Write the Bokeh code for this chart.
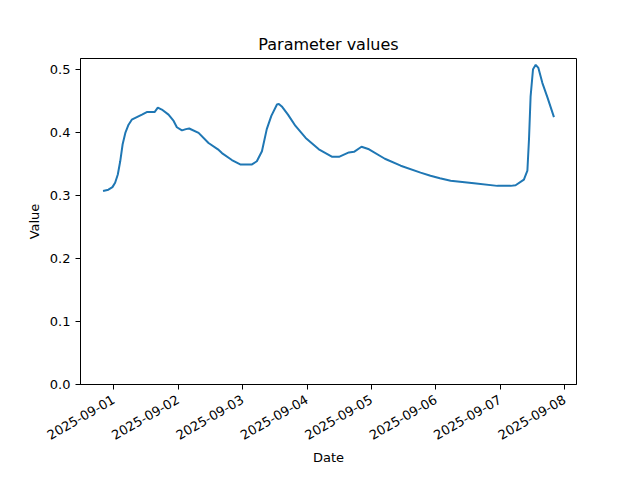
import pandas as pd
from bokeh.plotting import figure
from bokeh.models import Range1d, FixedTicker, DatetimeTickFormatter, NumeralTickFormatter, ColumnDataSource
from bokeh.embed import file_html
from bokeh.resources import INLINE

start = pd.Timestamp("2025-08-31 20:00")
hours = [0, 2, 3.5, 4.5, 5.5, 6.4, 7.3, 8.3, 9.5, 10.7, 12.6, 14.5, 16.3, 19.2, 20.4, 21.9,
         24.4, 26.3, 27.5, 29.4, 30.9, 32.1, 35.6, 39.3, 42.8, 44.3, 48, 51.1, 55.5, 57.3,
         59.2, 61, 62.7, 64.8, 65.5, 66.6, 68.9, 71.7, 75.5, 80.4, 85.4, 87.9, 91.6, 93.5,
         96.3, 99.1, 105, 110.9, 118.3, 122, 125.5, 129.5, 138.2, 146.9, 151.9, 153.7,
         156.8, 158.1, 158.7, 159.3, 160.2, 161.2, 162.2, 163.7, 165.6, 168]
values = [0.307, 0.309, 0.313, 0.320, 0.333, 0.354, 0.381, 0.399, 0.412, 0.420, 0.424, 0.428,
          0.432, 0.432, 0.439, 0.436, 0.428, 0.418, 0.408, 0.403, 0.405, 0.406, 0.399, 0.383,
          0.373, 0.367, 0.356, 0.349, 0.349, 0.354, 0.370, 0.405, 0.426, 0.444, 0.445, 0.441,
          0.428, 0.410, 0.391, 0.373, 0.361, 0.361, 0.368, 0.369, 0.377, 0.373, 0.358, 0.347,
          0.336, 0.331, 0.327, 0.323, 0.319, 0.315, 0.315, 0.316, 0.325, 0.339, 0.389, 0.457,
          0.500, 0.507, 0.502, 0.478, 0.455, 0.424]
tick_dates = ["2025-09-01", "2025-09-02", "2025-09-03", "2025-09-04",
              "2025-09-05", "2025-09-06", "2025-09-07", "2025-09-08"]
y_ticks = [0.0, 0.1, 0.2, 0.3, 0.4, 0.5]

times = [start + pd.Timedelta(hours=h) for h in hours]
src = ColumnDataSource(dict(t=times, v=values))

t0 = times[0].value / 1e6
t1 = times[-1].value / 1e6
pad = 0.05 * (t1 - t0)
vmax = max(values); vmin = min(values)
ytop = vmax + 0.05 * (vmax - vmin)

FONT = "DejaVu Sans"
p = figure(width=640, height=480, x_axis_type="datetime", output_backend="svg",
           toolbar_location=None, title="Parameter values",
           x_range=Range1d(t0 - pad, t1 + pad), y_range=Range1d(0, ytop),
           min_border_left=80, min_border_right=64, min_border_top=58, min_border_bottom=96)
p.line("t", "v", source=src, line_color="#1f77b4", line_width=2)

p.title.align = "center"
p.title.text_font = FONT
p.title.text_font_size = "16px"
p.title.text_font_style = "normal"
p.title.text_color = "black"

p.xgrid.visible = False
p.ygrid.visible = False
p.outline_line_color = "black"
p.outline_line_alpha = 1
p.outline_line_width = 1

p.xaxis.ticker = FixedTicker(ticks=[pd.Timestamp(d).value / 1e6 for d in tick_dates])
p.xaxis.formatter = DatetimeTickFormatter(days="%Y-%m-%d", months="%Y-%m-%d", hours="%Y-%m-%d")
p.xaxis.major_label_orientation = 0.5236
p.xaxis.major_label_standoff = 9
p.yaxis.ticker = FixedTicker(ticks=y_ticks)
p.yaxis.formatter = NumeralTickFormatter(format="0.0")

for ax in (p.xaxis, p.yaxis):
    ax.axis_line_color = "black"
    ax.major_tick_line_color = "black"
    ax.major_tick_out = 5
    ax.major_tick_in = 0
    ax.minor_tick_line_color = None
    ax.major_label_text_font = FONT
    ax.major_label_text_font_size = "13px"
    ax.major_label_text_color = "black"
    ax.axis_label_text_font = FONT
    ax.axis_label_text_font_size = "13px"
    ax.axis_label_text_font_style = "normal"
    ax.axis_label_text_color = "black"
p.xaxis.axis_label = "Date"
p.xaxis.axis_label_standoff = 3
p.yaxis.axis_label = "Value"

open("out.html", "w").write(file_html(p, INLINE))
